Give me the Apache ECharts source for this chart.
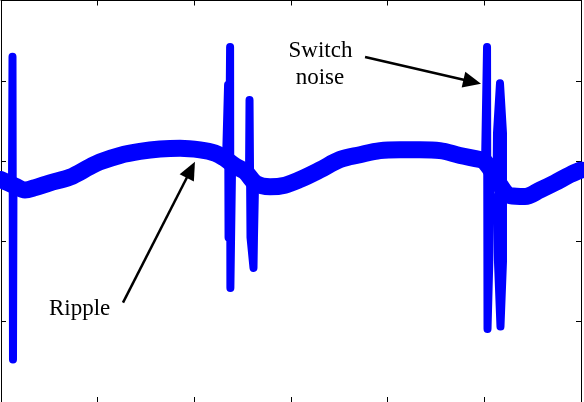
<html lang="en">
<head>
    <meta charset="UTF-8">
    <title>Ripple and switch noise</title>
    <script src="https://cdn.jsdelivr.net/npm/echarts@6.0.0/dist/echarts.min.js"></script>
    <style>
        body { margin: 0; background: #fff; }
        #main { width: 584px; height: 402px; }
    </style>
</head>
<body>
<div id="main"></div>
<script type="text/javascript">
    // axis ranges (no tick labels are shown, only the tick marks)
    var xRange = [0, 600], xStep = 100;
    var yRange = [0, 500], yStep = 100;

    // ripple: centre of the thick blue band
    var ripple = [
        [0, 277], [5.2, 274], [14.5, 269], [24.8, 264], [35.2, 267], [50.7, 273],
        [71.4, 280], [92, 293], [102.4, 299], [123, 307], [143.8, 312], [164.5, 315],
        [185.2, 316], [205.9, 314], [221.4, 310], [230.7, 304], [242.1, 294], [252.4, 287],
        [263.8, 272], [278.3, 268], [293.8, 270], [309.3, 277], [330, 289], [350.7, 302],
        [371.4, 308], [392.1, 313], [412.8, 314], [433.4, 314], [454.1, 313], [474.8, 307],
        [495.5, 302], [499.7, 300], [507.9, 287], [516.2, 270], [526.6, 257], [542.1, 256],
        [557.6, 264], [573.1, 273], [588.6, 283], [600, 289]
    ];

    // switching spikes, one small list per event
    var spikeA = [[11.4, 277], [11.9, 430], [12.4, 53], [12.9, 271]];
    var spikeB = [[232.8, 302], [234.9, 395], [235.4, 205], [237.0, 442], [237.3, 142], [239.0, 290]];
    var spikeC = [[256.6, 289], [257.1, 376], [258.1, 205], [261.2, 167], [261.7, 205], [262.8, 271]];
    var spikeD = [[500.7, 295], [502.8, 442], [503.3, 91], [505.4, 186], [506.4, 264]];
    var spikeE = [[512.6, 271], [513.1, 335], [516.2, 397], [517.2, 397], [519.3, 335], [519.3, 175],
                  [516.7, 94], [514.1, 175], [514.1, 258], [521.4, 258]];
    var spikes = [spikeA, spikeB, spikeC, spikeD, spikeE];

    // annotation arrows: [start, head]
    var arrowSwitch = [[376.6, 429.7], [487.5, 398.9]];
    var arrowRipple = [[126.2, 123.8], [196.4, 289.2]];

    var blue = '#0000ff';
    var serif = '"Liberation Serif", "Times New Roman", serif';

    function axis(pos, range, step) {
        return {
            type: 'value',
            position: pos,
            min: range[0],
            max: range[1],
            interval: step,
            axisLine: {show: true, onZero: false, lineStyle: {color: '#000', width: 1}},
            axisTick: {show: true, inside: true, length: 5, lineStyle: {color: '#000', width: 1}},
            axisLabel: {show: false},
            splitLine: {show: false}
        };
    }

    function arrow(pair) {
        return [
            {coord: pair[0], symbol: 'none'},
            {coord: pair[1], symbol: 'triangle', symbolSize: [16, 18]}
        ];
    }

    var series = [{
        name: 'ripple',
        type: 'line',
        data: ripple,
        showSymbol: false,
        silent: true,
        smooth: 0.35,
        lineStyle: {color: blue, width: 17, join: 'round', cap: 'round'},
        markLine: {
            silent: true,
            symbol: ['none', 'triangle'],
            label: {show: false},
            lineStyle: {color: '#000', width: 2.5, type: 'solid'},
            itemStyle: {color: '#000'},
            data: [arrow(arrowSwitch), arrow(arrowRipple)]
        }
    }];
    spikes.forEach(function (s, i) {
        series.push({
            name: 'spike' + i,
            type: 'line',
            data: s,
            showSymbol: false,
            silent: true,
            lineStyle: {color: blue, width: 8, join: 'round', cap: 'round'}
        });
    });

    var myChart = echarts.init(document.getElementById('main'));
    var option = {
        animation: false,
        backgroundColor: '#fff',
        grid: {left: 1, top: 0.5, width: 580, height: 402, containLabel: false},
        xAxis: [axis('bottom', xRange, xStep), axis('top', xRange, xStep)],
        yAxis: [axis('left', yRange, yStep), axis('right', yRange, yStep)],
        series: series,
        graphic: [
            {type: 'text', x: 320.5, y: 51,
             style: {text: 'Switch', font: '23px ' + serif, fill: '#000', align: 'center', verticalAlign: 'middle'}},
            {type: 'text', x: 320, y: 78,
             style: {text: 'noise', font: '23px ' + serif, fill: '#000', align: 'center', verticalAlign: 'middle'}},
            {type: 'text', x: 49, y: 309,
             style: {text: 'Ripple', font: '23px ' + serif, fill: '#000', align: 'left', verticalAlign: 'middle'}}
        ]
    };
    myChart.setOption(option);
</script>
</body>
</html>
